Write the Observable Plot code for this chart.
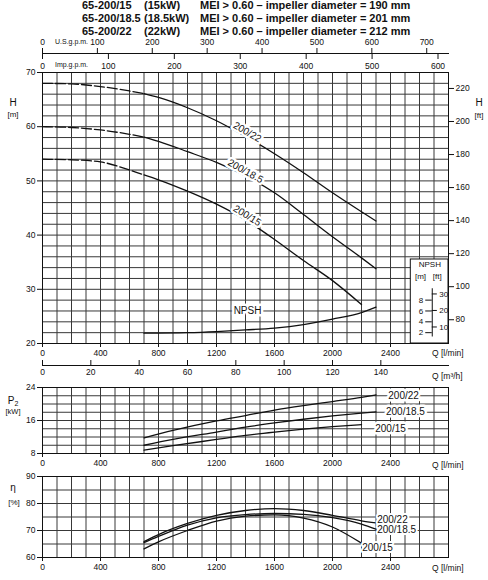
<!DOCTYPE html>
<html><head><meta charset="utf-8">
<script src="https://cdn.jsdelivr.net/npm/d3@7"></script>
<script src="https://cdn.jsdelivr.net/npm/@observablehq/plot@0.6"></script>
<style>
body{margin:0;background:#fff;}
#c{position:relative;width:488px;height:580px;overflow:hidden;background:#fff;font-family:"Liberation Sans",Arial,sans-serif;color:#111;}
.t{position:absolute;white-space:nowrap;line-height:1;}
</style></head><body><div id="c"></div>
<script>
// ---------- data ----------
const titleRows = [
  ["65-200/15", "(15kW)", "MEI > 0.60 – impeller diameter = 190 mm"],
  ["65-200/18.5", "(18.5kW)", "MEI > 0.60 – impeller diameter = 201 mm"],
  ["65-200/22", "(22kW)", "MEI > 0.60 – impeller diameter = 212 mm"]
];
const seriesNames = ["200/22", "200/18.5", "200/15"];

// Head H [m] vs Q [l/min]
const qH = [0,200,400,600,700,800,1000,1200,1400,1600,1800,2000,2200,2300];
const h22 = [68.0,67.9,67.4,66.6,66.1,65.4,63.5,61.1,58.2,55.0,51.5,47.8,44.3,42.6];
const h185 = [60.0,59.85,59.4,58.6,58.1,57.3,55.4,53.4,50.9,47.8,43.8,39.7,35.8,33.8];
const qH15 = [0,200,400,600,700,800,1000,1200,1400,1600,1800,2000,2200];
const h15 = [54.0,53.9,53.5,52.0,51.1,50.2,48.1,45.7,42.8,39.2,35.3,31.6,27.2];
const dashedLimit = 700; // curves are dashed below this flow

// NPSH [m]
const qNpsh = [700,1000,1200,1400,1600,1800,2000,2200,2300];
const npsh = [1.9,2.0,2.2,2.5,2.85,3.5,4.5,5.7,6.7];

// Power P2 [kW]
const qP = [700,900,1200,1400,1600,1800,2000,2200,2300];
const p22 = [11.8,13.6,15.9,17.2,18.5,19.6,20.6,21.6,22.2];
const p185 = [10.0,11.4,13.2,14.4,15.4,16.3,17.1,17.8,18.1];
const qP15 = [700,900,1200,1400,1600,1800,2000,2200];
const p15 = [8.8,9.9,11.4,12.4,13.2,13.9,14.5,15.0];

// Efficiency [%]
const qE = [700,800,1000,1200,1400,1600,1800,2000,2200,2300];
const e22 = [65.9,68.5,72.6,75.6,77.4,78.1,77.4,75.6,73.6,72.8];
const e185 = [65.5,67.8,72.0,74.7,75.9,76.3,76.0,74.8,72.4,70.5];
const qE15 = [700,800,1000,1200,1400,1600,1800,2000,2200];
const e15 = [63.2,65.8,70.0,73.5,75.3,75.8,74.6,71.3,65.3];

// ticks
const qTicks = [0,400,800,1200,1600,2000,2400];
const hTicks = [20,30,40,50,60,70];
const ftTicks = [80,100,120,140,160,180,200,220];
const usTicks = [0,100,200,300,400,500,600,700];
const impTicks = [0,100,200,300,400,500,600];
const m3hTicks = [0,20,40,60,80,100,120,140];
const pTicks = [8,16,24];
const eTicks = [60,70,80,90];
const npshMTicks = [2,4,6,8];
const npshFtTicks = [10,20,30];
const gridQ = d3.range(0, 2801, 100);
const gridH = d3.range(20, 71, 2);
const gridP = d3.range(8, 25, 2);
const gridE = d3.range(60, 91, 5);

// label positions (data units)
const hLabels = [
  {q:1412, h:59.0, text:"200/22", rot:30},
  {q:1400, h:51.8, text:"200/18.5", rot:29},
  {q:1412, h:43.6, text:"200/15", rot:32}
];
const npshLabel = [{q:1414, h:26, text:"NPSH"}];
const pLabels = [
  {q:2490, p:22, text:"200/22"},
  {q:2503, p:18, text:"200/18.5"},
  {q:2400, p:14, text:"200/15"}
];
const eLabels = [
  {q:2308, e:74.1, text:"200/22"},
  {q:2308, e:70.2, text:"200/18.5"},
  {q:2205, e:63.5, text:"200/15"}
];
const inset = {q1:2540, q2:2800, h1:20, h2:35.5, axisQ:2688, npshMin:1.2, npshMax:10.1};
const insetTexts = [
  {q:2671, h:34.5, text:"NPSH"},
  {q:2607, h:32.4, text:"[m]"},
  {q:2722, h:32.4, text:"[ft]"}
];

// unit conversions
const US_GAL = 3.78541, IMP_GAL = 4.54609, M3H = 1000/60, FT = 0.3048;

// ---------- helpers ----------
const c = document.getElementById("c");
const GRID = "#383838";
const INK = "#111";
const FONT = "'Liberation Sans', Arial, sans-serif";
const fmt = d => String(Math.round(d));
function place(svg, top){ svg.style.position="absolute"; svg.style.left="0px"; svg.style.top=top+"px"; c.appendChild(svg); }
function txt(html, x, y, o={}){
  const d=document.createElement("div"); d.className="t"; d.innerHTML=html;
  d.style.left=x+"px"; d.style.top=y+"px";
  d.style.fontSize=(o.size||8.5)+"px"; if(o.bold) d.style.fontWeight="bold";
  d.style.transform = o.anchor==="start" ? "translate(0,-50%)" : o.anchor==="end" ? "translate(-100%,-50%)" : "translate(-50%,-50%)";
  c.appendChild(d); return d;
}
const zip = (name, qs, vs) => qs.map((q,i)=>({series:name, q, v:vs[i]}));
const base = {width:488, marginLeft:42, marginRight:40,
  style:{background:"transparent", fontFamily:FONT, fontSize:"8.5px", color:INK, overflow:"visible"}};

// ---------- title ----------
const titleY = [5, 17.5, 31];
const colX = [82, 144, 200];
titleRows.forEach((row,i)=>row.forEach((s,j)=>txt(s, colX[j], titleY[i], {size:11, bold:true, anchor:"start"})));

// ---------- gpm axes ----------
place(Plot.plot({...base, height:40, marginTop:20, marginBottom:20,
  x:{domain:[0,2800], label:null},
  marks:[
    Plot.frame({anchor:"bottom", stroke:INK}),
    Plot.axisX({anchor:"top", ticks:usTicks.map(v=>v*US_GAL), tickFormat:d=>fmt(d/US_GAL), tickSize:6, tickPadding:3, label:null}),
    Plot.axisX({anchor:"bottom", ticks:impTicks.map(v=>v*IMP_GAL), tickFormat:d=>fmt(d/IMP_GAL), tickSize:6, tickPadding:3, label:null})
  ]}), 33);
txt("U.S.g.p.m.", 55, 41, {size:7, anchor:"start"});
txt("Imp.g.p.m.", 55, 64, {size:7, anchor:"start"});

// ---------- H chart ----------
const hData = [...zip("200/22", qH, h22), ...zip("200/18.5", qH, h185), ...zip("200/15", qH15, h15)];
const lineOpts = {x:"q", y:"v", z:"series", stroke:INK, strokeWidth:1.3, curve:"monotone-x"};
place(Plot.plot({...base, height:303, marginTop:12, marginBottom:20,
  x:{domain:[0,2800], label:null}, y:{domain:[20,70], label:null},
  marks:[
    Plot.ruleX(gridQ, {stroke:GRID, strokeWidth:1}),
    Plot.ruleY(gridH, {stroke:GRID, strokeWidth:1}),
    Plot.rect([inset], {x1:"q1", x2:"q2", y1:"h1", y2:"h2", fill:"white", stroke:INK, strokeWidth:1}),
    Plot.line(hData.filter(d=>d.q<=dashedLimit), {...lineOpts, strokeDasharray:"10,3"}),
    Plot.line(hData.filter(d=>d.q>=dashedLimit), lineOpts),
    Plot.line(zip("NPSH", qNpsh, npsh), {x:"q", y:d=>20+d.v, stroke:INK, strokeWidth:1.3, curve:"monotone-x"}),
    Plot.text(hLabels, {x:"q", y:"h", text:"text", rotate:"rot", fontSize:10, fill:INK, stroke:"white", strokeWidth:5}),
    Plot.text(npshLabel, {x:"q", y:"h", text:"text", fontSize:10, fill:INK, stroke:"white", strokeWidth:5}),
    // NPSH inset scale
    Plot.ruleX([inset], {x:"axisQ", y1:d=>20+d.npshMin, y2:d=>20+d.npshMax, stroke:INK}),
    Plot.ruleY(npshMTicks, {y:d=>20+d, x1:inset.axisQ-45, x2:inset.axisQ, stroke:INK}),
    Plot.text(npshMTicks, {y:d=>20+d, x:inset.axisQ, dx:-9, textAnchor:"end", fill:INK, fontSize:8}),
    Plot.ruleY(npshFtTicks, {y:d=>20+d*FT, x1:inset.axisQ, x2:inset.axisQ+35, stroke:INK}),
    Plot.text(npshFtTicks, {y:d=>20+d*FT, x:inset.axisQ, dx:7, textAnchor:"start", fill:INK, fontSize:8}),
    Plot.text(insetTexts, {x:"q", y:"h", text:"text", fill:INK, fontSize:8}),
    Plot.frame({stroke:INK}),
    Plot.axisX({ticks:qTicks, tickFormat:fmt, tickSize:4, tickPadding:2, label:null}),
    Plot.axisY({anchor:"left", ticks:hTicks, tickFormat:fmt, tickSize:5, tickPadding:2, label:null}),
    Plot.axisY({anchor:"right", ticks:ftTicks.map(f=>f*FT), tickFormat:d=>fmt(d/FT), tickSize:5, tickPadding:2, label:null})
  ]}), 60);
txt("H", 13, 103, {size:10});
txt("[m]", 13, 115, {size:8});
txt("H", 479, 103, {size:10});
txt("[ft]", 479, 116, {size:8});
txt("Q [l/min]", 432, 353, {size:8.5, anchor:"start"});

// ---------- m3/h axis ----------
place(Plot.plot({...base, height:30, marginTop:10, marginBottom:20,
  x:{domain:[0,2800], label:null},
  marks:[
    Plot.frame({anchor:"top", stroke:INK}),
    Plot.axisX({anchor:"bottom", ticks:m3hTicks.map(v=>v*M3H), tickFormat:d=>fmt(d/M3H), tickSize:-5, tickPadding:8, label:null})
  ]}), 355);
txt("Q [m³/h]", 432, 376, {size:8.5, anchor:"start"});

// ---------- P2 chart ----------
const pData = [...zip("200/22", qP, p22), ...zip("200/18.5", qP, p185), ...zip("200/15", qP15, p15)];
place(Plot.plot({...base, height:96, marginTop:10, marginBottom:20,
  x:{domain:[0,2800], label:null}, y:{domain:[8,24], label:null},
  marks:[
    Plot.ruleX(gridQ, {stroke:GRID, strokeWidth:1}),
    Plot.ruleY(gridP, {stroke:GRID, strokeWidth:1}),
    Plot.line(pData, lineOpts),
    Plot.text(pLabels, {x:"q", y:"p", text:"text", fontSize:10, fill:INK, stroke:"white", strokeWidth:5}),
    Plot.frame({stroke:INK}),
    Plot.axisX({ticks:qTicks, tickFormat:fmt, tickSize:4, tickPadding:2, label:null}),
    Plot.axisY({ticks:pTicks, tickFormat:fmt, tickSize:5, tickPadding:2, label:null})
  ]}), 377);
txt("P<sub style='font-size:7px;vertical-align:-2px'>2</sub>", 13, 401, {size:10});
txt("[kW]", 13, 412, {size:7.5});
txt("Q [l/min]", 432, 465, {size:8.5, anchor:"start"});

// ---------- Efficiency chart ----------
const eData = [...zip("200/22", qE, e22), ...zip("200/18.5", qE, e185), ...zip("200/15", qE15, e15)];
place(Plot.plot({...base, height:111, marginTop:10, marginBottom:20,
  x:{domain:[0,2800], label:null}, y:{domain:[60,90], label:null},
  marks:[
    Plot.ruleX(gridQ, {stroke:GRID, strokeWidth:1}),
    Plot.ruleY(gridE, {stroke:GRID, strokeWidth:1}),
    Plot.line(eData, lineOpts),
    Plot.text(eLabels, {x:"q", y:"e", text:"text", textAnchor:"start", fontSize:10, fill:INK, stroke:"white", strokeWidth:4}),
    Plot.frame({stroke:INK}),
    Plot.axisX({ticks:qTicks, tickFormat:fmt, tickSize:4, tickPadding:2, label:null}),
    Plot.axisY({ticks:eTicks, tickFormat:fmt, tickSize:5, tickPadding:2, label:null})
  ]}), 466);
txt("η", 13, 488, {size:10});
txt("[%]", 14, 503, {size:8});
txt("Q [l/min]", 432, 568, {size:8.5, anchor:"start"});
</script></body></html>
